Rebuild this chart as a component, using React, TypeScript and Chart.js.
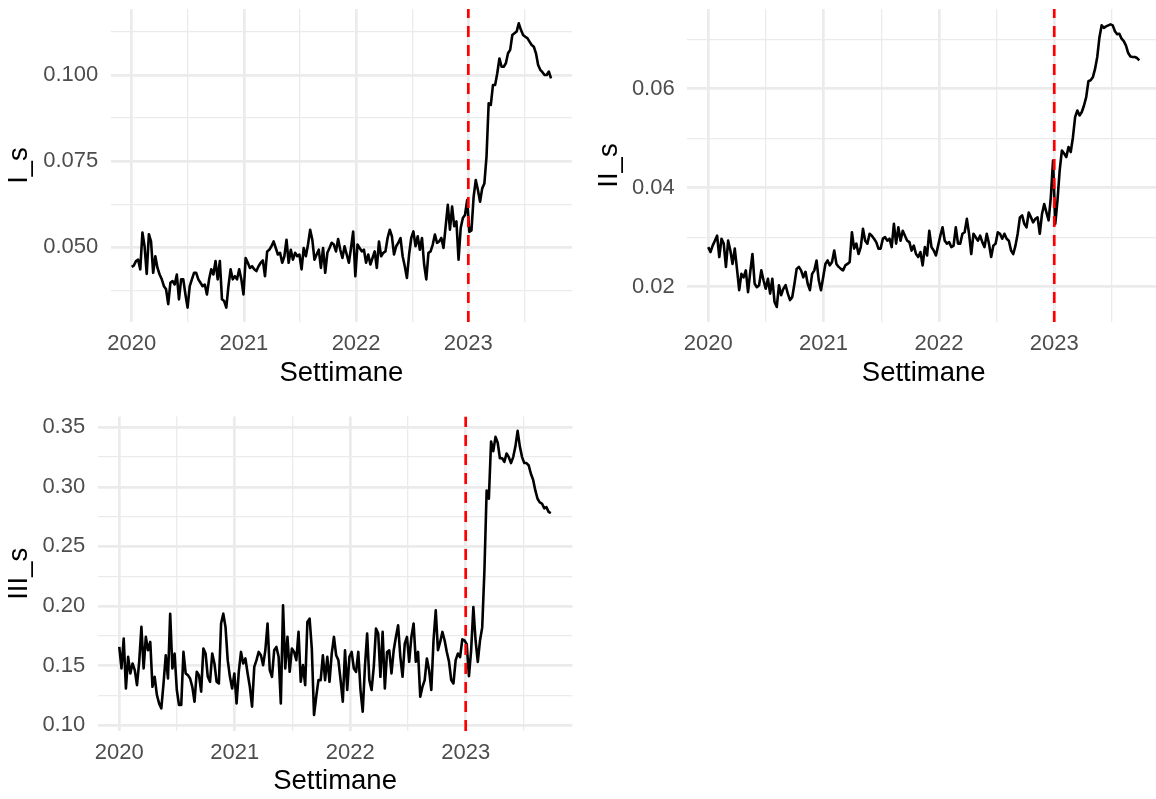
import React, { useEffect, useRef } from 'react';
import { Chart, registerables } from 'chart.js';

Chart.register(...registerables);

const FONT = '"Liberation Sans", Arial, Helvetica, sans-serif';

// ---- data -------------------------------------------------------------
const startYear = 2020;
const cutoffYear = 2023;
const xTitle = 'Settimane';
const yearTickValues = [2020, 2020.5, 2021, 2021.5, 2022, 2022.5, 2023, 2023.5];
const yearTickLabels = ['2020', '', '2021', '', '2022', '', '2023', ''];

const seriesI: number[] = [
  0.0443,0.0447,0.0460,0.0464,0.0436,0.0543,0.0503,0.0423,0.0538,0.0517,
  0.0426,0.0474,0.0440,0.0421,0.0407,0.0387,0.0378,0.0335,0.0397,0.0402,
  0.0392,0.0421,0.0349,0.0407,0.0407,0.0363,0.0325,0.0387,0.0407,0.0426,
  0.0426,0.0407,0.0397,0.0387,0.0392,0.0363,0.0407,0.0436,0.0421,0.0460,
  0.0407,0.0460,0.0349,0.0344,0.0325,0.0387,0.0436,0.0407,0.0416,0.0407,
  0.0436,0.0407,0.0363,0.0469,0.0455,0.0440,0.0445,0.0436,0.0431,0.0445,
  0.0455,0.0462,0.0416,0.0488,0.0493,0.0503,0.0517,0.0498,0.0479,0.0484,
  0.0455,0.0474,0.0522,0.0455,0.0493,0.0464,0.0484,0.0474,
  0.0479,0.0436,0.0498,0.0474,0.0508,0.0551,0.0522,0.0464,0.0479,0.0493,
  0.0440,0.0498,0.0426,0.0484,0.0498,0.0513,0.0508,0.0488,0.0524,0.0493,
  0.0469,0.0503,0.0479,0.0455,0.0498,0.0546,0.0416,0.0508,0.0498,0.0488,
  0.0493,0.0455,0.0479,0.0450,0.0469,0.0488,0.0440,0.0517,0.0474,0.0484,
  0.0488,0.0527,0.0551,0.0532,0.0479,0.0503,0.0513,0.0527,0.0474,0.0445,
  0.0411,0.0479,0.0527,0.0546,0.0503,0.0532,0.0493,0.0527,0.0450,0.0407,
  0.0484,0.0488,0.0508,0.0537,0.0513,0.0517,0.0527,0.0498,0.0561,0.0623,
  0.0551,0.0618,0.0561,0.0575,0.0464,0.0556,0.0585,0.0594,
  0.0637,0.0545,0.0549,0.0646,0.0695,0.0666,0.0632,0.0671,0.0685,0.0763,
  0.0918,0.0913,0.0971,0.0971,0.1005,0.1048,0.1024,0.1024,0.1034,0.1063,
  0.1073,0.1116,0.1121,0.1126,0.1150,0.1131,0.1116,0.1111,0.1107,0.1097,
  0.1087,0.1082,0.1063,0.1029,0.1015,0.1008,0.1000,0.1000,0.1010,0.0990,
];

const seriesII: number[] = [
  0.0280,0.0270,0.0283,0.0293,0.0303,0.0260,0.0297,0.0287,0.0240,0.0293,
  0.0273,0.0246,0.0277,0.0236,0.0193,0.0226,0.0219,0.0233,0.0189,0.0230,
  0.0266,0.0206,0.0199,0.0203,0.0233,0.0213,0.0196,0.0216,0.0186,0.0216,
  0.0169,0.0159,0.0203,0.0183,0.0196,0.0203,0.0186,0.0173,0.0179,0.0206,
  0.0236,0.0240,0.0233,0.0219,0.0230,0.0206,0.0193,0.0226,0.0233,0.0253,
  0.0213,0.0193,0.0219,0.0246,0.0253,0.0243,0.0250,0.0273,0.0246,0.0240,
  0.0236,0.0233,0.0243,0.0246,0.0250,0.0310,0.0277,0.0287,0.0266,0.0280,
  0.0317,0.0293,0.0287,0.0307,0.0303,0.0297,0.0290,0.0277,
  0.0277,0.0297,0.0300,0.0293,0.0297,0.0280,0.0327,0.0287,0.0320,0.0293,
  0.0313,0.0303,0.0293,0.0290,0.0273,0.0283,0.0266,0.0260,0.0270,0.0243,
  0.0280,0.0263,0.0313,0.0280,0.0273,0.0263,0.0283,0.0303,0.0320,0.0293,
  0.0287,0.0290,0.0280,0.0283,0.0320,0.0287,0.0287,0.0307,0.0310,0.0337,
  0.0307,0.0266,0.0307,0.0300,0.0293,0.0303,0.0290,0.0280,0.0307,0.0287,
  0.0260,0.0283,0.0287,0.0310,0.0307,0.0297,0.0307,0.0297,0.0293,0.0273,
  0.0266,0.0283,0.0307,0.0340,0.0344,0.0327,0.0320,0.0350,0.0340,0.0330,
  0.0337,0.0340,0.0307,0.0347,0.0367,0.0350,0.0334,0.0381,
  0.0455,0.0327,0.0374,0.0435,0.0475,0.0469,0.0462,0.0482,0.0472,0.0502,
  0.0543,0.0556,0.0546,0.0553,0.0566,0.0583,0.0615,0.0617,0.0623,0.0640,
  0.0664,0.0704,0.0728,0.0723,0.0726,0.0728,0.0730,0.0728,0.0716,0.0710,
  0.0711,0.0701,0.0696,0.0687,0.0672,0.0665,0.0664,0.0664,0.0662,0.0657,
];

const seriesIII: number[] = [
  0.1656,0.1475,0.1726,0.1307,0.1573,0.1433,0.1517,0.1461,0.1335,
  0.1531,0.1824,0.1475,0.1740,0.1628,0.1698,0.1321,0.1405,
  0.1252,0.1182,0.1140,0.1349,0.1586,0.1391,0.1935,0.1475,0.1600,
  0.1294,0.1168,0.1168,0.1614,0.1433,0.1419,0.1391,
  0.1321,0.1196,0.1447,0.1419,0.1280,0.1642,0.1600,0.1405,0.1363,
  0.1600,0.1517,0.1363,0.1349,0.1852,0.1935,0.1824,0.1545,
  0.1405,0.1307,0.1433,0.1182,0.1447,0.1614,0.1517,0.1559,0.1433,
  0.1321,0.1154,0.1489,0.1545,0.1614,0.1586,0.1503,0.1628,0.1852,0.1461,
  0.1405,0.1628,0.1656,
  0.1573,0.1182,0.2005,0.1475,0.1740,0.1447,0.1642,0.1614,
  0.1545,0.1782,0.1363,0.1503,0.1335,0.1865,0.1893,0.1642,0.1084,
  0.1238,0.1377,0.1377,0.1586,0.1377,0.1573,0.1363,0.1600,
  0.1740,0.1586,0.1545,0.1377,0.1196,0.1628,0.1294,0.1573,0.1614,
  0.1475,0.1447,0.1614,0.1294,0.1112,0.1489,0.1768,0.1377,0.1294,
  0.1489,0.1810,0.1768,0.1405,0.1782,0.1307,0.1614,0.1628,0.1433,
  0.1628,0.1740,0.1838,0.1573,0.1405,0.1684,0.1740,0.1531,0.1740,0.1852,
  0.1531,0.1614,0.1238,0.1321,0.1377,0.1559,0.1461,0.1294,0.1712,
  0.1963,0.1628,0.1698,0.1782,0.1712,0.1614,0.1531,0.1377,0.1349,
  0.1545,0.1600,
  0.1570,0.1720,
  0.1710,0.1680,0.1410,0.1630,0.1990,0.1710,0.1530,0.1710,0.1820,0.2300,
  0.2970,0.2900,0.3380,0.3300,0.3420,0.3370,0.3240,0.3240,0.3210,0.3280,
  0.3250,0.3200,0.3250,0.3340,0.3470,0.3340,0.3250,0.3200,0.3200,0.3180,
  0.3110,0.3060,0.2970,0.2900,0.2870,0.2860,0.2820,0.2830,0.2790,0.2780,
];

const ticksI = [0.0375, 0.05, 0.0625, 0.075, 0.0875, 0.1, 0.1125];
const tickLabelsI = ['', '0.050', '', '0.075', '', '0.100', ''];
const ticksII = [0.03, 0.02, 0.04, 0.05, 0.06, 0.07];
const tickLabelsII = ['', '0.02', '0.04', '', '0.06', ''];
const ticksIII = [0.1, 0.125, 0.15, 0.175, 0.2, 0.225, 0.25, 0.275, 0.3, 0.325, 0.35];
const tickLabelsIII = ['0.10', '', '0.15', '', '0.20', '', '0.25', '', '0.30', '', '0.35'];

// ---- helpers ------------------------------------------------------------
const weekToYear = (i: number) => startYear + (i * 7) / 365.25;

type PanelProps = {
  values: number[];
  yTicks: number[];
  yTickLabels: string[];
  yMin: number;
  yMax: number;
  yTitle: string;
  left: number;
  top: number;
  width: number;
  height: number;
  axisW: number;
  padTop: number;
  padRight: number;
  xAxisH: number;
  yTitlePad: number;
  yTickPad: number;
  xTickPad: number;
  xTitlePad: number;
};

function Panel(p: PanelProps) {
  const ref = useRef<HTMLCanvasElement>(null);
  useEffect(() => {
    const n = p.values.length;
    const span = weekToYear(n - 1) - startYear;
    const xMin = startYear - span * 0.05;
    const xMax = startYear + span * 1.05;
    const chart = new Chart(ref.current as HTMLCanvasElement, {
      type: 'line',
      data: {
        datasets: [
          {
            data: [
              { x: cutoffYear, y: p.yMin },
              { x: cutoffYear, y: p.yMax },
            ],
            borderColor: '#FF0000',
            borderWidth: 2.7,
            borderDash: [11, 8],
            pointRadius: 0,
            order: 0,
          },
          {
            data: p.values.map((v, i) => ({ x: weekToYear(i), y: v })),
            borderColor: '#000000',
            borderWidth: 2.6,
            pointRadius: 0,
            tension: 0,
            borderJoinStyle: 'round',
            order: 1,
          },
        ],
      },
      options: {
        responsive: false,
        animation: false,
        events: [],
        layout: { padding: { left: 0, top: p.padTop, right: p.padRight, bottom: 0 } },
        plugins: { legend: { display: false }, tooltip: { enabled: false } },
        scales: {
          x: {
            type: 'linear',
            bounds: 'data',
            min: xMin,
            max: xMax,
            afterBuildTicks: (s: any) => {
              s.ticks = yearTickValues.map((v) => ({ value: v }));
            },
            afterFit: (s: any) => {
              s.height = p.xAxisH;
              s.paddingLeft = 0;
              s.paddingRight = 0;
              s.paddingTop = 0;
              s.paddingBottom = 0;
            },
            ticks: {
              autoSkip: false,
              maxRotation: 0,
              padding: p.xTickPad,
              color: '#4D4D4D',
              font: { size: 22, family: FONT },
              callback: (_v: any, i: number) => yearTickLabels[i],
            },
            grid: {
              color: '#EBEBEB',
              lineWidth: (c: any) => (c.tick && Number.isInteger(c.tick.value) ? 2.67 : 1.33),
              drawTicks: false,
            },
            border: { display: false },
            title: {
              display: true,
              text: xTitle,
              color: '#000000',
              font: { size: 27.5, family: FONT, lineHeight: 1 },
              padding: { top: 0, bottom: p.xTitlePad },
            },
          },
          y: {
            type: 'linear',
            bounds: 'data',
            min: p.yMin,
            max: p.yMax,
            afterBuildTicks: (s: any) => {
              s.ticks = p.yTicks.map((v) => ({ value: v }));
            },
            afterFit: (s: any) => {
              s.width = p.axisW;
              s.paddingLeft = 0;
              s.paddingRight = 0;
              s.paddingTop = 0;
              s.paddingBottom = 0;
            },
            ticks: {
              padding: p.yTickPad,
              color: '#4D4D4D',
              font: { size: 22, family: FONT },
              callback: (_v: any, i: number) => p.yTickLabels[i],
            },
            grid: {
              color: '#EBEBEB',
              lineWidth: (c: any) => (c.tick && p.yTickLabels[c.index] !== '' ? 2.67 : 1.33),
              drawTicks: false,
            },
            border: { display: false },
            title: {
              display: true,
              text: p.yTitle,
              color: '#000000',
              font: { size: 27.5, family: FONT, lineHeight: 1 },
              padding: { top: p.yTitlePad, bottom: 0 },
            },
          },
        },
      },
    } as any);
    return () => chart.destroy();
  }, []);
  return (
    <canvas
      ref={ref}
      width={p.width}
      height={p.height}
      style={{ position: 'absolute', left: p.left, top: p.top, width: p.width, height: p.height }}
    />
  );
}

export default function App() {
  return (
    <div
      style={{
        position: 'fixed',
        left: 0,
        top: 0,
        width: 1156,
        height: 799,
        overflow: 'hidden',
        background: '#ffffff',
      }}
    >
      <Panel
        values={seriesI}
        yTicks={ticksI}
        yTickLabels={tickLabelsI}
        yMin={0.02832}
        yMax={0.11915}
        yTitle="I_s"
        left={0}
        top={0}
        width={578}
        height={400}
        axisW={110.7}
        padTop={9}
        padRight={6}
        xAxisH={78}
        yTitlePad={6}
        yTickPad={12.5}
        xTickPad={9}
        xTitlePad={12.5}
      />
      <Panel
        values={seriesII}
        yTicks={ticksII}
        yTickLabels={tickLabelsII}
        yMin={0.01287}
        yMax={0.0761}
        yTitle="II_s"
        left={578}
        top={0}
        width={600}
        height={400}
        axisW={108.7}
        padTop={9}
        padRight={17.2}
        xAxisH={78}
        yTitlePad={17.7}
        yTickPad={12}
        xTickPad={9}
        xTitlePad={12.5}
      />
      <Panel
        values={seriesIII}
        yTicks={ticksIII}
        yTickLabels={tickLabelsIII}
        yMin={0.095}
        yMax={0.359}
        yTitle="III_s"
        left={0}
        top={400}
        width={578}
        height={399}
        axisW={97.7}
        padTop={16.6}
        padRight={5.6}
        xAxisH={68}
        yTitlePad={6}
        yTickPad={12.5}
        xTickPad={9}
        xTitlePad={4}
      />
    </div>
  );
}
